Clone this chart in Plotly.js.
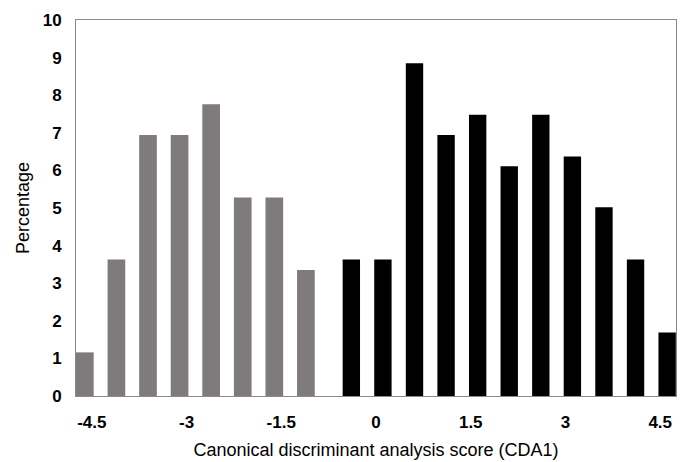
<!DOCTYPE html>
<html>
<head>
<meta charset="utf-8">
<script src="https://cdn.plot.ly/plotly-3.0.1.min.js"></script>
<style>html,body{margin:0;padding:0;background:#fff;}#chart{width:684px;height:462px;}</style>
</head>
<body>
<div id="chart"></div>
<script>
// Categories (CDA1 score bins)
var grayScores = [-4.5, -4, -3.5, -3, -2.5, -2, -1.5, -1];
var grayPct    = [1.16, 3.63, 6.94, 6.94, 7.76, 5.28, 5.28, 3.35];
var blackScores = [-0.5, 0, 0.5, 1, 1.5, 2, 2.5, 3, 3.5, 4, 4.5];
var blackPct    = [3.63, 3.63, 8.85, 6.94, 7.48, 6.11, 7.48, 6.37, 5.02, 3.63, 1.69];
var xTickVals = [-4.5, -3, -1.5, 0, 1.5, 3, 4.5];
var xTickText = ['-4.5', '-3', '-1.5', '0', '1.5', '3', '4.5'];
var yTickVals = [0,1,2,3,4,5,6,7,8,9,10];

var traces = [
  {type:'bar', x: grayScores, y: grayPct, width: 0.28, offset: -0.25,
   marker:{color:'#7f7a7b'}, hoverinfo:'x+y', showlegend:false},
  {type:'bar', x: blackScores, y: blackPct, width: 0.275, offset: -0.028,
   marker:{color:'#000000'}, hoverinfo:'x+y', showlegend:false}
];

var layout = {
  width: 684, height: 462,
  margin: {l: 76, r: 8, t: 20, b: 66, pad: 0},
  paper_bgcolor: '#fff', plot_bgcolor: '#fff',
  barmode: 'overlay',
  font: {family: 'Liberation Sans, Arial, sans-serif', color: '#000'},
  xaxis: {
    range: [-4.75, 4.75], tickvals: xTickVals, ticktext: xTickText,
    showgrid: false, zeroline: false, showline: true, mirror: true,
    linecolor: '#8a8a8a', linewidth: 1,
    ticks: 'outside', ticklen: 11, tickcolor: 'rgba(0,0,0,0)',
    tickfont: {size: 17, family: 'Liberation Sans, Arial, sans-serif', weight: 'bold'},
    title: {text: 'Canonical discriminant analysis score (CDA1)', font: {size: 18}, standoff: 11},
    automargin: false, fixedrange: true
  },
  yaxis: {
    range: [0, 10], tickvals: yTickVals,
    showgrid: false, zeroline: false, showline: true, mirror: true,
    linecolor: '#8a8a8a', linewidth: 1,
    ticks: 'outside', ticklen: 10, tickcolor: 'rgba(0,0,0,0)',
    tickfont: {size: 17, family: 'Liberation Sans, Arial, sans-serif', weight: 'bold'},
    title: {text: 'Percentage', font: {size: 18}, standoff: 8},
    automargin: false, fixedrange: true
  }
};

Plotly.newPlot('chart', traces, layout, {staticPlot: true, displayModeBar: false});
</script>
</body>
</html>
